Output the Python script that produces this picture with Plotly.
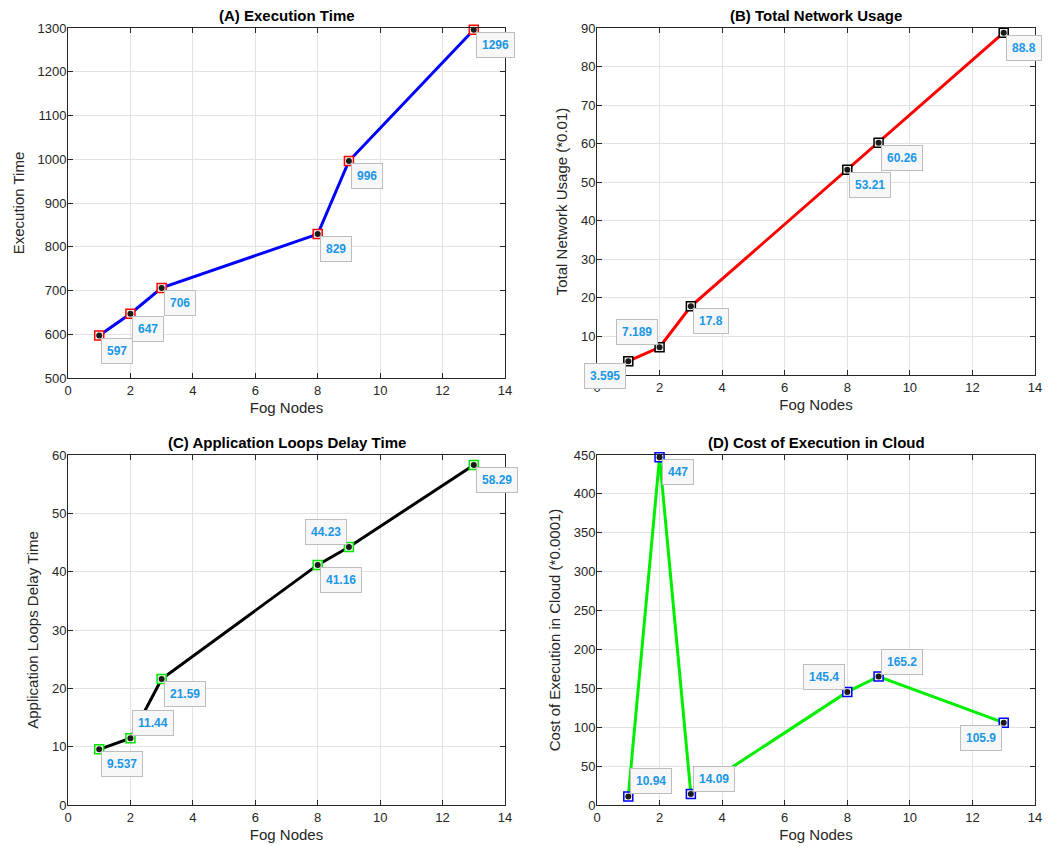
import plotly.graph_objects as go

fog_nodes = [1, 2, 3, 8, 9, 13]
exec_time = [597, 647, 706, 829, 996, 1296]
net_usage = [3.595, 7.189, 17.8, 53.21, 60.26, 88.8]
loop_delay = [9.537, 11.44, 21.59, 41.16, 44.23, 58.29]
cloud_cost = [10.94, 447, 14.09, 145.4, 165.2, 105.9]

labels_a = ["597", "647", "706", "829", "996", "1296"]
labels_b = ["3.595", "7.189", "17.8", "53.21", "60.26", "88.8"]
labels_c = ["9.537", "11.44", "21.59", "41.16", "44.23", "58.29"]
labels_d = ["10.94", "447", "14.09", "145.4", "165.2", "105.9"]

# label box placement: (horizontal side, vertical side)
place_a = [("r", "b"), ("r", "b"), ("r", "b"), ("r", "b"), ("r", "b"), ("r", "b")]
place_b = [("l", "b"), ("l", "t"), ("r", "b"), ("r", "b"), ("r", "b"), ("r", "b")]
place_c = [("r", "b"), ("r", "t"), ("r", "b"), ("r", "b"), ("l", "t"), ("r", "b")]
place_d = [("r", "t"), ("r", "b"), ("r", "t"), ("l", "t"), ("r", "t"), ("l", "b")]

FONT = "Liberation Sans, Arial, Helvetica, sans-serif"
TXT = "#262626"
LBL = "#1a96e6"

panels = [
    dict(y=exec_time, lab=labels_a, pl=place_a, line="#0000ff", edge="#ff0000",
         title="(A) Execution Time", ytitle="Execution Time",
         yr=[500, 1300], yt=list(range(500, 1301, 100)),
         dx=[68, 505], dy=[28, 378]),
    dict(y=net_usage, lab=labels_b, pl=place_b, line="#ff0000", edge="#000000",
         title="(B) Total Network Usage", ytitle="Total Network Usage (*0.01)",
         yr=[0, 90], yt=list(range(10, 91, 10)),
         dx=[597, 1035], dy=[28, 375]),
    dict(y=loop_delay, lab=labels_c, pl=place_c, line="#000000", edge="#00e600",
         title="(C) Application Loops Delay Time", ytitle="Application Loops Delay Time",
         yr=[0, 60], yt=list(range(0, 61, 10)),
         dx=[68, 505], dy=[455, 805]),
    dict(y=cloud_cost, lab=labels_d, pl=place_d, line="#00ee00", edge="#0000ff",
         title="(D) Cost of Execution in Cloud", ytitle="Cost of Execution in Cloud (*0.0001)",
         yr=[0, 450], yt=list(range(0, 451, 50)),
         dx=[597, 1035], dy=[455, 805]),
]

W, H = 1059, 846
OFF = 8  # page body margin
fig = go.Figure()
annotations = []
layout = {}
for i, p in enumerate(panels):
    n = i + 1
    xa = "x" if n == 1 else f"x{n}"
    ya = "y" if n == 1 else f"y{n}"
    fig.add_trace(go.Scatter(x=fog_nodes, y=p["y"], mode="lines",
                             line=dict(color=p["line"], width=3),
                             xaxis=xa, yaxis=ya, showlegend=False, hoverinfo="skip"))
    fig.add_trace(go.Scatter(x=fog_nodes, y=p["y"], mode="markers",
                             marker=dict(symbol="square", size=9, color="#f4f4ee",
                                         line=dict(color=p["edge"], width=1.5)),
                             xaxis=xa, yaxis=ya, showlegend=False, cliponaxis=False))
    fig.add_trace(go.Scatter(x=fog_nodes, y=p["y"], mode="markers",
                             marker=dict(symbol="circle", size=6, color="#1a1a1a"),
                             xaxis=xa, yaxis=ya, showlegend=False, cliponaxis=False))
    dom_x = [(p["dx"][0] - OFF) / W, (p["dx"][1] - OFF) / W]
    dom_y = [1 - (p["dy"][1] - OFF) / H, 1 - (p["dy"][0] - OFF) / H]
    axcommon = dict(showline=True, linecolor=TXT, linewidth=1, mirror="ticks",
                    ticks="inside", ticklen=5, tickcolor=TXT, automargin=False,
                    showgrid=True, gridcolor="#e3e3e3", gridwidth=1, zeroline=False,
                    tickfont=dict(family=FONT, size=13, color=TXT))
    layout["xaxis" if n == 1 else f"xaxis{n}"] = dict(
        axcommon, domain=dom_x, range=[0, 14], tickvals=list(range(0, 15, 2)),
        anchor=ya, title=dict(text="Fog Nodes", font=dict(family=FONT, size=15, color=TXT), standoff=5))
    layout["yaxis" if n == 1 else f"yaxis{n}"] = dict(
        axcommon, domain=dom_y, range=p["yr"], tickvals=p["yt"], ticklabelstandoff=-2,
        anchor=xa, title=dict(text=p["ytitle"], font=dict(family=FONT, size=15, color=TXT), standoff=9))
    annotations.append(dict(text=f"<b>{p['title']}</b>", xref="paper", yref="paper",
                            x=(dom_x[0] + dom_x[1]) / 2, y=dom_y[1], yshift=2,
                            xanchor="center", yanchor="bottom", showarrow=False,
                            font=dict(family=FONT, size=15, color="#000000")))
    for xv, yv, lab, (hs, vs) in zip(fog_nodes, p["y"], p["lab"], p["pl"]):
        annotations.append(dict(
            text=f"<b>{lab}</b>", x=xv, y=yv, xref=xa, yref=ya, showarrow=False,
            xanchor="left" if hs == "r" else "right",
            yanchor="top" if vs == "b" else "bottom",
            xshift=2 if hs == "r" else -2, yshift=-2 if vs == "b" else 2,
            font=dict(family=FONT, size=12, color=LBL),
            bgcolor="#f7f7f7", bordercolor="#bdbdbd", borderwidth=1, borderpad=5))

fig.update_layout(width=W, height=H, margin=dict(l=0, r=0, t=0, b=0),
                  paper_bgcolor="white", plot_bgcolor="white",
                  annotations=annotations, **layout)
fig.write_html("out.html")
